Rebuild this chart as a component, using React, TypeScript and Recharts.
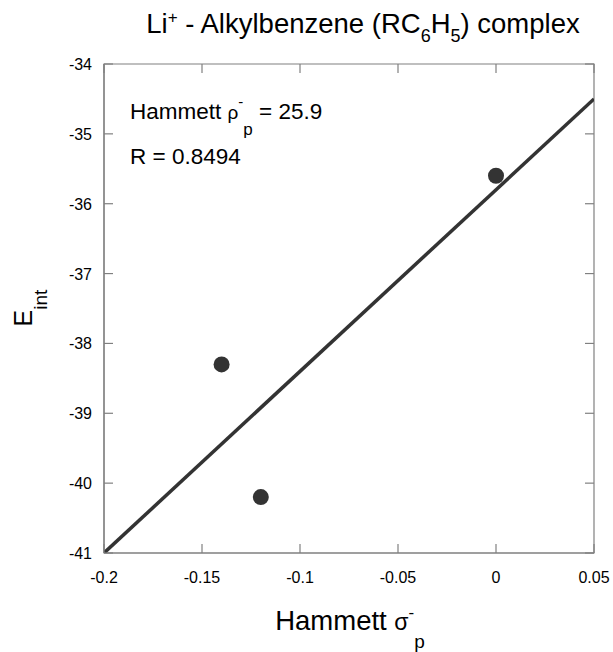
import React from "react";
import { ScatterChart, Scatter, XAxis, YAxis, ReferenceArea } from "recharts";

const sigmaValues = [0, -0.14, -0.12];
const eintValues = [-35.6, -38.3, -40.2];
const fitX = [-0.2, 0.05];
const fitY = [-41, -34.5];
const xTicks = [-0.2, -0.15, -0.1, -0.05, 0, 0.05];
const yTicks = [-41, -40, -39, -38, -37, -36, -35, -34];
const xDomain: [number, number] = [-0.2, 0.05];
const yDomain: [number, number] = [-41, -34];

const points = sigmaValues.map((x, i) => ({ x, y: eintValues[i] }));
const fitLine = fitX.map((x, i) => ({ x, y: fitY[i] }));

const W = 613;
const H = 652;
const M = { top: 64, right: 19, left: 0, bottom: 0 };
const YW = 104;
const XH = 99;
const PW = W - M.right - YW; // plot width
const PH = H - M.top - XH; // plot height
const FONT = "'Liberation Sans', Arial, Helvetica, sans-serif";
const AXIS = "#808080";
const INK = "#333333";
const TL = 9;

const XTick = (props: any) => {
  const { x, y, payload } = props;
  return (
    <g>
      <line x1={x} x2={x} y1={y} y2={y - TL} stroke={AXIS} strokeWidth={1.2} />
      <line x1={x} x2={x} y1={y - PH} y2={y - PH + TL} stroke={AXIS} strokeWidth={1.2} />
      <text x={x} y={y + 30} textAnchor="middle" fontSize={16} fontFamily={FONT} fill="#000">
        {String(payload.value)}
      </text>
    </g>
  );
};

const YTick = (props: any) => {
  const { x, y, payload } = props;
  return (
    <g>
      <line x1={x} x2={x + TL} y1={y} y2={y} stroke={AXIS} strokeWidth={1.2} />
      <line x1={x + PW} x2={x + PW - TL} y1={y} y2={y} stroke={AXIS} strokeWidth={1.2} />
      <text x={x - 12} y={y + 6} textAnchor="end" fontSize={16} fontFamily={FONT} fill="#000">
        {String(payload.value)}
      </text>
    </g>
  );
};

const Dot = (props: any) => {
  const { cx, cy } = props;
  return <circle cx={cx} cy={cy} r={8} fill={INK} />;
};

const NoDot = () => null;

export default function App() {
  return (
    <div style={{ position: "relative", width: W, height: H, overflow: "hidden" }}>
      <style>{`body{margin:0}.recharts-surface{overflow:visible}`}</style>
      <ScatterChart width={W} height={H} margin={M}>
        <XAxis
          dataKey="x"
          type="number"
          domain={xDomain}
          ticks={xTicks}
          interval={0}
          tickSize={0}
          tickMargin={0}
          tickLine={false}
          height={XH}
          axisLine={{ stroke: AXIS, strokeWidth: 1.2 }}
          tick={<XTick />}
          allowDataOverflow
        />
        <YAxis
          dataKey="y"
          type="number"
          domain={yDomain}
          ticks={yTicks}
          interval={0}
          tickSize={0}
          tickMargin={0}
          tickLine={false}
          width={YW}
          axisLine={{ stroke: AXIS, strokeWidth: 1.2 }}
          tick={<YTick />}
          allowDataOverflow
        />
        <ReferenceArea
          x1={xDomain[0]}
          x2={xDomain[1]}
          y1={yDomain[0]}
          y2={yDomain[1]}
          fill="none"
          fillOpacity={0}
          stroke={AXIS}
          strokeWidth={1.2}
        />
        <Scatter
          data={fitLine}
          line={{ stroke: INK, strokeWidth: 3.5 }}
          shape={<NoDot />}
          isAnimationActive={false}
        />
        <Scatter data={points} shape={<Dot />} isAnimationActive={false} />
      </ScatterChart>
      <svg
        width={W}
        height={H}
        style={{ position: "absolute", left: 0, top: 0, pointerEvents: "none" }}
      >
        <text x={363} y={33} textAnchor="middle" fontSize={27.5} fontFamily={FONT} fill="#000">
          Li
          <tspan dy={-10} fontSize={17}>+</tspan>
          <tspan dy={10}> - Alkylbenzene (RC</tspan>
          <tspan dy={9} fontSize={18}>6</tspan>
          <tspan dy={-9}>H</tspan>
          <tspan dy={9} fontSize={18}>5</tspan>
          <tspan dy={-9}>) complex</tspan>
        </text>
        <text x={130} y={119} fontSize={22.5} fontFamily={FONT} fill="#000">
          Hammett <tspan fontSize={19}>ρ</tspan>
          <tspan dy={-12} fontSize={15}>-</tspan>
          <tspan dy={28} fontSize={17}>p</tspan>
          <tspan dy={-16}> = 25.9</tspan>
        </text>
        <text x={130} y={164} fontSize={22.5} fontFamily={FONT} fill="#000">
          R = 0.8494
        </text>
        <text x={350} y={630} textAnchor="middle" fontSize={27.5} fontFamily={FONT} fill="#000">
          Hammett <tspan fontSize={23}>σ</tspan>
          <tspan dy={-12} fontSize={17}>-</tspan>
          <tspan dy={30} fontSize={19}>p</tspan>
        </text>
        <text
          transform="translate(32,308) rotate(-90)"
          textAnchor="middle"
          fontSize={25}
          fontFamily={FONT}
          fill="#000"
        >
          E<tspan dy={15} fontSize={19}>int</tspan>
        </text>
      </svg>
    </div>
  );
}
